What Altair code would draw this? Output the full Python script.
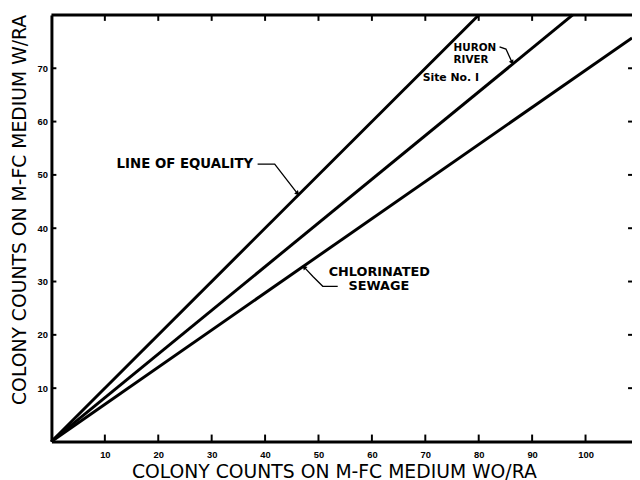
import altair as alt
import pandas as pd

# ---- data ----
series = ["Line of equality", "Huron River", "Chlorinated sewage"]
x_start = [0, 0, 0]
y_start = [0, 0, 0]
x_end = [80, 97.6, 108.7]
y_end = [80, 80, 75.7]

x_ticks = [10, 20, 30, 40, 50, 60, 70, 80, 90, 100]
y_ticks = [10, 20, 30, 40, 50, 60, 70]
x_domain = [0, 108.7]
y_domain = [0, 80]

ann_text = ["LINE  OF  EQUALITY", "HURON", "RIVER", "Site No. I", "CHLORINATED", "SEWAGE"]
ann_x = [12.2, 75.3, 75.3, 69.5, 51.9, 55.6]
ann_y = [52.0, 73.8, 71.5, 68.1, 31.8, 29.1]
ann_size = [13.5, 10.5, 10.5, 11, 13, 13]

leader_id = ["eq", "eq", "eq", "hr", "hr", "hr", "cs", "cs", "cs", "cs"]
leader_order = [0, 1, 2, 0, 1, 2, 0, 1, 2, 3]
leader_x = [38.6, 41.8, 46.0, 83.9, 85.1, 86.2, 53.6, 50.8, 49.0, 47.4]
leader_y = [52.0, 52.0, 46.6, 74.0, 73.6, 71.2, 29.1, 29.1, 30.9, 32.6]

arrow_x = [46.0, 86.2, 47.4]
arrow_y = [46.6, 71.2, 32.6]
arrow_angle = [135, 150, 315]

W, H = 588, 432
FONT = "DejaVu Sans"
TICKFONT = "Liberation Sans"

rows = []
for s, x0, y0, x1, y1 in zip(series, x_start, y_start, x_end, y_end):
    rows.append({"series": s, "x": x0, "y": y0})
    rows.append({"series": s, "x": x1, "y": y1})
lines_df = pd.DataFrame(rows)

xs = alt.Scale(domain=x_domain, nice=False, zero=False)
ys = alt.Scale(domain=y_domain, nice=False, zero=False)

x_axis = alt.Axis(
    values=x_ticks, grid=False, ticks=False, domain=True, domainColor="black",
    domainWidth=3, labelFont=TICKFONT, labelFontWeight="bold", labelFontSize=9.5,
    labelColor="black", labelPadding=8, labelFlush=False,
    title="COLONY COUNTS ON M-FC MEDIUM WO/RA", titleFont=FONT,
    titleFontSize=19, titleFontWeight="normal", titleColor="black",
    titleX=286, titleY=30, titleBaseline="middle", titleAlign="center",
)
y_axis = alt.Axis(
    values=y_ticks, grid=False, ticks=False, domain=True, domainColor="black",
    domainWidth=3, labelFont=TICKFONT, labelFontWeight="bold", labelFontSize=9.5,
    labelColor="black", labelPadding=4, labelFlush=False,
    title="COLONY COUNTS ON M-FC MEDIUM W/RA", titleFont=FONT, titleFontSize=19,
    titleFontWeight="normal", titleColor="black", titleAngle=270,
    titleX=-32.5, titleY=197, titleBaseline="middle", titleAlign="center",
)


def X(field):
    return alt.X(field, scale=xs, axis=x_axis)


def Y(field):
    return alt.Y(field, scale=ys, axis=y_axis)


lines = alt.Chart(lines_df).mark_line(color="black", strokeWidth=3).encode(
    x=X("x:Q"), y=Y("y:Q"), detail="series:N",
)

top_border = alt.Chart(pd.DataFrame({"a": [0]})).mark_rule(
    color="black", strokeWidth=3
).encode(x=alt.value(0), x2=alt.value(W), y=alt.value(0))

xt_df = pd.DataFrame({"x": x_ticks})
yt_df = pd.DataFrame({"y": y_ticks})
bottom_ticks = alt.Chart(xt_df).mark_rule(color="black", strokeWidth=2).encode(
    x=X("x:Q"), y=alt.value(H - 7), y2=alt.value(H)
)
top_ticks = alt.Chart(xt_df).mark_rule(color="black", strokeWidth=2).encode(
    x=X("x:Q"), y=alt.value(0), y2=alt.value(6)
)
left_ticks = alt.Chart(yt_df).mark_rule(color="black", strokeWidth=2).encode(
    y=Y("y:Q"), x=alt.value(0), x2=alt.value(5)
)
right_ticks = alt.Chart(yt_df).mark_rule(color="black", strokeWidth=2).encode(
    y=Y("y:Q"), x=alt.value(W - 4), x2=alt.value(W)
)

ann_df = pd.DataFrame({"text": ann_text, "x": ann_x, "y": ann_y, "s": ann_size})
labels = alt.Chart(ann_df).mark_text(
    align="left", baseline="middle", font=FONT, fontWeight="bold", color="black"
).encode(
    x=X("x:Q"), y=Y("y:Q"), text="text:N",
    size=alt.Size("s:Q", scale=None, legend=None),
)

lead_df = pd.DataFrame({"id": leader_id, "o": leader_order, "x": leader_x, "y": leader_y})
leaders = alt.Chart(lead_df).mark_line(color="black", strokeWidth=1.3).encode(
    x=X("x:Q"), y=Y("y:Q"), detail="id:N", order="o:Q",
)

arr_df = pd.DataFrame({"x": arrow_x, "y": arrow_y, "a": arrow_angle})
arrows = alt.Chart(arr_df).mark_point(
    shape="triangle", filled=True, color="black", size=28, opacity=1
).encode(x=X("x:Q"), y=Y("y:Q"), angle=alt.Angle("a:Q", scale=None))

chart = alt.layer(
    lines, top_border, bottom_ticks, top_ticks, left_ticks, right_ticks,
    leaders, arrows, labels
).properties(
    width=W, height=H,
    autosize=alt.AutoSizeParams(type="none"),
    padding={"left": 44, "top": 4, "right": 0, "bottom": 37},
).configure_view(stroke=None).configure(background="white")

chart.save("out.html", embed_options={"renderer": "svg", "actions": False})
